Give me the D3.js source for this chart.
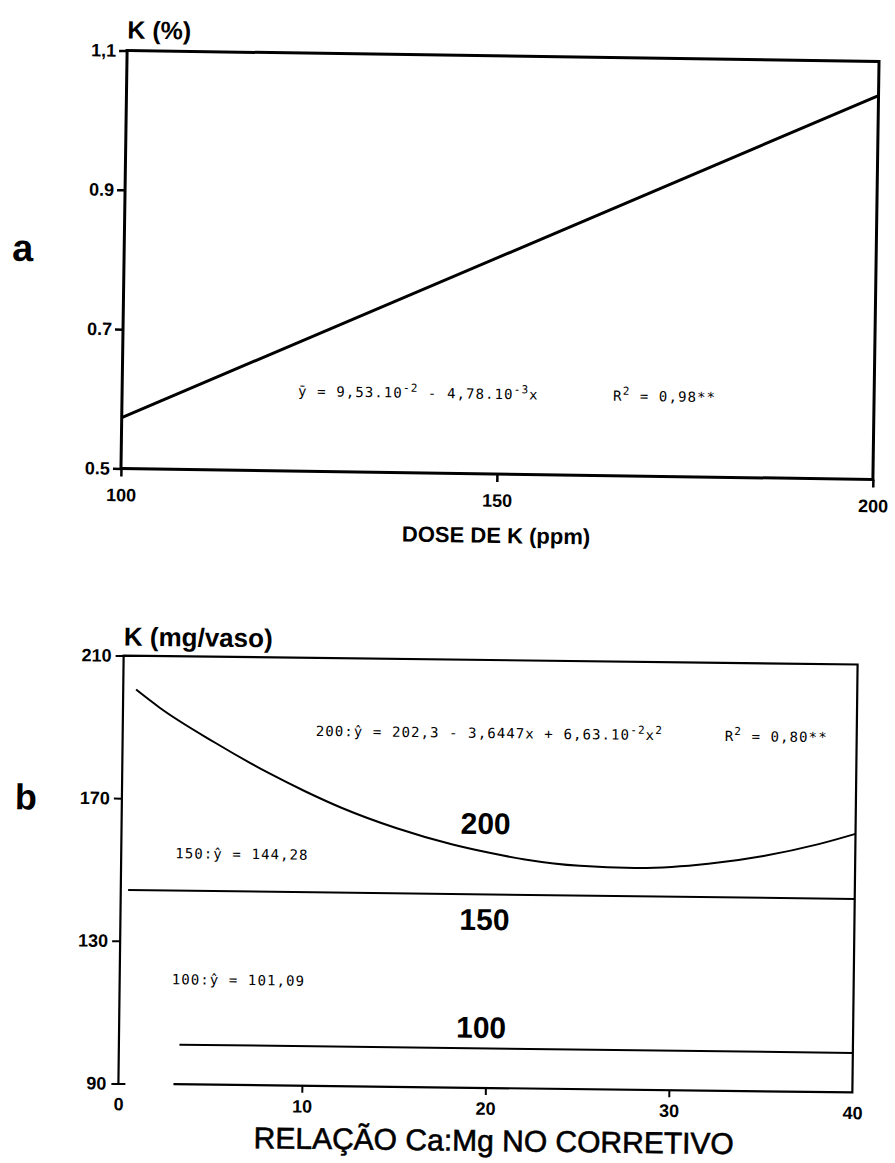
<!DOCTYPE html>
<html><head><meta charset="utf-8">
<script src="https://cdn.jsdelivr.net/npm/d3@7"></script>
<style>
html,body{margin:0;padding:0;background:#fff;}
svg{display:block;}
.tick text{font-family:"Liberation Sans",Arial,sans-serif;font-weight:bold;fill:#000;}
.eq{font-family:"DejaVu Sans Mono",monospace;font-size:14px;fill:#000;letter-spacing:1.1px;}
</style>
</head><body>
<svg id="chart" width="895" height="1163"></svg>
<script>
// ---------- Panel a data ----------
const doseTicks = [100, 150, 200];
const kPctTicks = [1.1, 0.9, 0.7, 0.5];
const kPctTickLabels = ["1,1", "0.9", "0.7", "0.5"];
const lineDose = [100, 200];
const lineKPct = [0.573, 1.051];

// ---------- Panel b data ----------
const ratioTicks = [0, 10, 20, 30, 40];
const kMgTicks = [210, 170, 130, 90];
const curve200Ratio = [0.7, 2, 5, 8, 10, 12, 15, 18, 20, 22, 25, 28, 30, 32, 35, 38, 40];
const curve200K     = [200.5, 195.5, 186, 177.5, 172.5, 168, 162.5, 158.2, 156, 154.2, 152.6, 152.2, 152.6, 153.6, 156, 159.5, 162.5];
const line150Ratio = [0.4, 40];
const line150K     = [144.28, 144.28];
const line100Ratio = [3.3, 40];
const line100K     = [101.09, 101.09];

const svg = d3.select("#chart");
const sans = '"Liberation Sans", Arial, sans-serif';

function sup(textSel, parts){
  let up = false;
  parts.forEach(([t, s])=>{
    const ts = textSel.append("tspan").text(t);
    if (s && !up){ ts.attr("dy",-6).attr("font-size",11); up = true; }
    else if (s && up){ ts.attr("font-size",11); }
    else if (!s && up){ ts.attr("dy",6); up = false; }
  });
}

// ================= Panel a =================
const A = {l:124, r:876, t:56, b:474};
const ga = svg.append("g").attr("transform", `rotate(0.84 ${(A.l+A.r)/2} ${(A.t+A.b)/2})`);
const xa = d3.scaleLinear().domain([100, 200]).range([A.l, A.r]);
const ya = d3.scaleLinear().domain([0.5, 1.1]).range([A.b, A.t]);

ga.append("rect").attr("x", A.l).attr("y", A.t).attr("width", A.r-A.l).attr("height", A.b-A.t)
  .attr("fill","none").attr("stroke","#000").attr("stroke-width",3);

const yAxA = ga.append("g").attr("transform",`translate(${A.l},0)`)
  .call(d3.axisLeft(ya).tickValues(kPctTicks).tickSize(8).tickPadding(3)
        .tickFormat((d,i)=>kPctTickLabels[i]));
yAxA.select(".domain").remove();
yAxA.selectAll(".tick line").attr("stroke-width",2.5);
yAxA.selectAll(".tick text").attr("font-size",18);

const xAxA = ga.append("g").attr("transform",`translate(0,${A.b})`)
  .call(d3.axisBottom(xa).tickValues(doseTicks).tickSize(8).tickPadding(12).tickFormat(d3.format("d")));
xAxA.select(".domain").remove();
xAxA.selectAll(".tick line").attr("stroke-width",2.5);
xAxA.selectAll(".tick text").attr("font-size",18);

ga.append("path")
  .datum(lineDose.map((d,i)=>[d, lineKPct[i]]))
  .attr("d", d3.line().x(d=>xa(d[0])).y(d=>ya(d[1])))
  .attr("fill","none").attr("stroke","#000").attr("stroke-width",3);

ga.append("text").attr("x", A.l).attr("y", 44).attr("font-family",sans).attr("font-weight","bold")
  .attr("font-size",25).text("K (%)");
ga.append("text").attr("x", 12).attr("y", 268).attr("font-family",sans).attr("font-weight","bold")
  .attr("font-size",38).text("a");
ga.append("text").attr("x", (A.l+A.r)/2).attr("y", 543).attr("text-anchor","middle")
  .attr("font-family",sans).attr("font-weight","bold").attr("font-size",22).text("DOSE DE K (ppm)");

const eqA = ga.append("text").attr("class","eq").attr("x", 300).attr("y", 399);
sup(eqA, [["ȳ = 9,53.10",false],["-2",true],[" - 4,78.10",false],["-3",true],["x",false]]);
const r2A = ga.append("text").attr("class","eq").attr("x", 615).attr("y", 399);
sup(r2A, [["R",false],["2",true],[" = 0,98**",false]]);

// ================= Panel b =================
const B = {l:121, r:855, t:660, b:1088};
const gb = svg.append("g").attr("transform", `rotate(0.7 ${(B.l+B.r)/2} ${(B.t+B.b)/2})`);
const xb = d3.scaleLinear().domain([0, 40]).range([B.l, B.r]);
const yb = d3.scaleLinear().domain([90, 210]).range([B.b, B.t]);

gb.append("path").attr("d", `M${B.l},${B.b}V${B.t}H${B.r}V${B.b}H${xb(3)}`)
  .attr("fill","none").attr("stroke","#000").attr("stroke-width",2.2);

const yAxB = gb.append("g").attr("transform",`translate(${B.l},0)`)
  .call(d3.axisLeft(yb).tickValues(kMgTicks).tickSize(8).tickPadding(4).tickFormat(d3.format("d")));
yAxB.select(".domain").remove();
yAxB.selectAll(".tick line").attr("stroke-width",2);
yAxB.selectAll(".tick text").attr("font-size",18);
yAxB.selectAll(".tick").filter(d=>d===90).select("line").attr("x2",-7).attr("x1",7);

const xAxB = gb.append("g").attr("transform",`translate(0,${B.b})`)
  .call(d3.axisBottom(xb).tickValues(ratioTicks).tickSize(7).tickPadding(7).tickFormat(d3.format("d")));
xAxB.select(".domain").remove();
xAxB.selectAll(".tick line").attr("stroke-width",2).attr("opacity", d => (d===0||d===40)?0:1);
xAxB.selectAll(".tick text").attr("font-size",18);

const lineB = d3.line().x(d=>xb(d[0])).y(d=>yb(d[1])).curve(d3.curveMonotoneX);
gb.append("path").datum(curve200Ratio.map((d,i)=>[d, curve200K[i]]))
  .attr("d", lineB).attr("fill","none").attr("stroke","#000").attr("stroke-width",2);
gb.append("path").datum(line150Ratio.map((d,i)=>[d, line150K[i]]))
  .attr("d", lineB).attr("fill","none").attr("stroke","#000").attr("stroke-width",2);
gb.append("path").datum(line100Ratio.map((d,i)=>[d, line100K[i]]))
  .attr("d", lineB).attr("fill","none").attr("stroke","#000").attr("stroke-width",2);

gb.append("text").attr("x", B.l).attr("y", 650).attr("font-family",sans).attr("font-weight","bold")
  .attr("font-size",26).text("K (mg/vaso)");
gb.append("text").attr("x", 14).attr("y", 815).attr("font-family",sans).attr("font-weight","bold")
  .attr("font-size",36).text("b");
gb.append("text").attr("x", 497).attr("y", 1151).attr("text-anchor","middle")
  .attr("font-family",sans).attr("font-size",30).attr("stroke","#000").attr("stroke-width",0.6)
  .text("RELAÇÃO Ca:Mg NO CORRETIVO");

const lab = (x,y,t)=>gb.append("text").attr("x",x).attr("y",y).attr("font-family",sans)
  .attr("font-weight","bold").attr("font-size",30).text(t);
lab(460, 834, "200");
lab(460, 930, "150");
lab(458, 1038, "100");

const eq200 = gb.append("text").attr("class","eq").attr("x", 314).attr("y", 738);
sup(eq200, [["200:ŷ = 202,3 - 3,6447x + 6,63.10",false],["-2",true],["x",false],["2",true]]);
const r2B = gb.append("text").attr("class","eq").attr("x", 723).attr("y", 738);
sup(r2B, [["R",false],["2",true],[" = 0,80**",false]]);
gb.append("text").attr("class","eq").attr("x", 175).attr("y", 862).text("150:ŷ = 144,28");
gb.append("text").attr("class","eq").attr("x", 173).attr("y", 988).text("100:ŷ = 101,09");
</script>
</body></html>
